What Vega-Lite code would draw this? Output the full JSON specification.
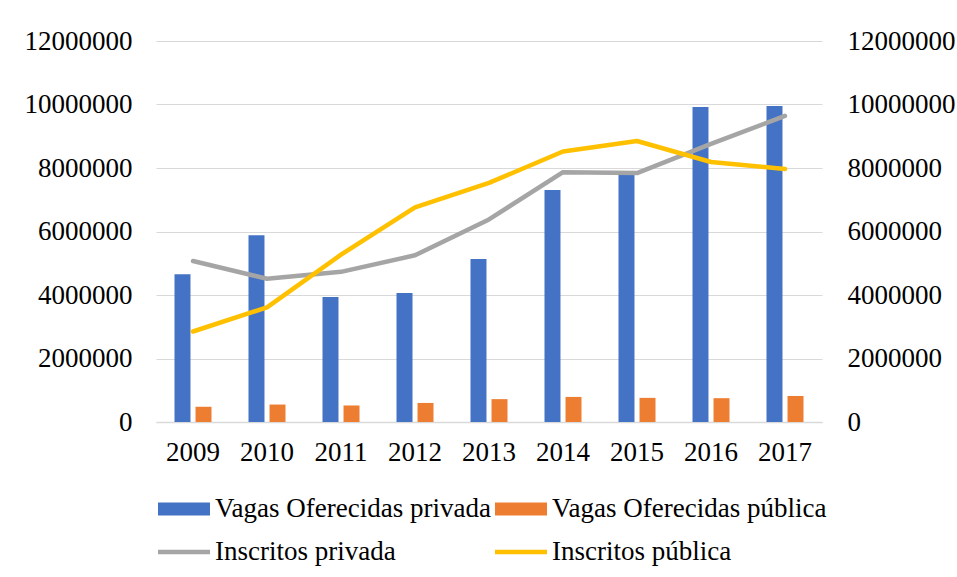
{
  "$schema": "https://vega.github.io/schema/vega-lite/v6.json",
  "width": 666,
  "height": 381,
  "autosize": {"type": "none"},
  "padding": {"left": 156, "top": 41, "right": 135, "bottom": 155},
  "background": "white",
  "config": {
    "view": {"stroke": null},
    "font": "'Liberation Serif', 'Times New Roman', serif",
    "axis": {"labelFont": "'Liberation Serif', 'Times New Roman', serif", "labelFontSize": 27, "labelColor": "#000000", "title": null, "ticks": false, "labelOverlap": false, "labelBound": false, "labelFlush": false}
  },
  "datasets": {
    "bars": [
      {"year": 2009, "series": "Vagas Oferecidas privada", "value": 4650000},
      {"year": 2010, "series": "Vagas Oferecidas privada", "value": 5880000},
      {"year": 2011, "series": "Vagas Oferecidas privada", "value": 3940000},
      {"year": 2012, "series": "Vagas Oferecidas privada", "value": 4060000},
      {"year": 2013, "series": "Vagas Oferecidas privada", "value": 5130000},
      {"year": 2014, "series": "Vagas Oferecidas privada", "value": 7310000},
      {"year": 2015, "series": "Vagas Oferecidas privada", "value": 7800000},
      {"year": 2016, "series": "Vagas Oferecidas privada", "value": 9920000},
      {"year": 2017, "series": "Vagas Oferecidas privada", "value": 9950000},
      {"year": 2009, "series": "Vagas Oferecidas pública", "value": 480000},
      {"year": 2010, "series": "Vagas Oferecidas pública", "value": 550000},
      {"year": 2011, "series": "Vagas Oferecidas pública", "value": 520000},
      {"year": 2012, "series": "Vagas Oferecidas pública", "value": 600000},
      {"year": 2013, "series": "Vagas Oferecidas pública", "value": 720000},
      {"year": 2014, "series": "Vagas Oferecidas pública", "value": 790000},
      {"year": 2015, "series": "Vagas Oferecidas pública", "value": 760000},
      {"year": 2016, "series": "Vagas Oferecidas pública", "value": 750000},
      {"year": 2017, "series": "Vagas Oferecidas pública", "value": 820000}
    ],
    "lines": [
      {"year": 2009, "series": "Inscritos privada", "value": 5070000},
      {"year": 2010, "series": "Inscritos privada", "value": 4510000},
      {"year": 2011, "series": "Inscritos privada", "value": 4730000},
      {"year": 2012, "series": "Inscritos privada", "value": 5250000},
      {"year": 2013, "series": "Inscritos privada", "value": 6380000},
      {"year": 2014, "series": "Inscritos privada", "value": 7870000},
      {"year": 2015, "series": "Inscritos privada", "value": 7840000},
      {"year": 2016, "series": "Inscritos privada", "value": 8760000},
      {"year": 2017, "series": "Inscritos privada", "value": 9640000},
      {"year": 2009, "series": "Inscritos pública", "value": 2850000},
      {"year": 2010, "series": "Inscritos pública", "value": 3610000},
      {"year": 2011, "series": "Inscritos pública", "value": 5270000},
      {"year": 2012, "series": "Inscritos pública", "value": 6760000},
      {"year": 2013, "series": "Inscritos pública", "value": 7530000},
      {"year": 2014, "series": "Inscritos pública", "value": 8520000},
      {"year": 2015, "series": "Inscritos pública", "value": 8850000},
      {"year": 2016, "series": "Inscritos pública", "value": 8190000},
      {"year": 2017, "series": "Inscritos pública", "value": 7970000}
    ]
  },
  "layer": [
    {
      "data": {"name": "bars"},
      "mark": {"type": "bar"},
      "encoding": {
        "x": {
          "field": "year", "type": "ordinal",
          "scale": {"paddingInner": 0.5, "paddingOuter": 0.25},
          "axis": {"labelAngle": 0, "labelPadding": 17, "domain": true, "domainColor": "#D9D9D9", "domainWidth": 1.5, "grid": false}
        },
        "xOffset": {
          "field": "series", "type": "nominal",
          "scale": {"domain": ["Vagas Oferecidas privada", "Vagas Oferecidas pública"], "paddingInner": 0.24, "paddingOuter": 0}
        },
        "y": {
          "field": "value", "type": "quantitative",
          "scale": {"domain": [0, 12000000], "nice": false},
          "axis": {"orient": "left", "values": [0, 2000000, 4000000, 6000000, 8000000, 10000000, 12000000], "format": "d", "grid": true, "gridColor": "#D9D9D9", "gridWidth": 1, "domain": false, "labelPadding": 24}
        },
        "color": {
          "field": "series", "type": "nominal",
          "scale": {
            "domain": ["Vagas Oferecidas privada", "Vagas Oferecidas pública", "Inscritos privada", "Inscritos pública"],
            "range": ["#4472C4", "#ED7D31", "#A5A5A5", "#FFC000"]
          },
          "legend": {
            "orient": "none", "legendX": 2, "legendY": 442,
            "direction": "horizontal", "columns": 2, "title": null,
            "labelFont": "'Liberation Serif', 'Times New Roman', serif", "labelFontSize": 27, "labelColor": "#000000",
            "symbolSize": 2704, "symbolType": "M-1,-0.25H1V0.25H-1Z", "symbolStrokeWidth": 0,
            "labelOffset": 5, "columnPadding": 4, "rowPadding": 4, "padding": 0, "labelLimit": 500,
            "encode": {
              "symbols": {
                "update": {
                  "shape": {"signal": "indexof(datum.value, 'Inscritos') == 0 ? 'M-1,-0.085H1V0.085H-1Z' : 'M-1,-0.25H1V0.25H-1Z'"},
                  "fill": {"scale": "color", "field": "value"},
                  "strokeWidth": {"value": 0},
                  "opacity": {"value": 1}
                }
              }
            }
          }
        }
      }
    },
    {
      "data": {"name": "lines"},
      "mark": {"type": "line", "strokeWidth": 4.5, "strokeCap": "round", "strokeJoin": "round"},
      "encoding": {
        "x": {"field": "year", "type": "ordinal"},
        "y": {
          "field": "value", "type": "quantitative",
          "scale": {"domain": [0, 12000000], "nice": false},
          "axis": {"orient": "right", "values": [0, 2000000, 4000000, 6000000, 8000000, 10000000, 12000000], "format": "d", "grid": false, "domain": false, "labelPadding": 25}
        },
        "color": {"field": "series", "type": "nominal"}
      }
    }
  ],
  "resolve": {"scale": {"y": "independent"}}
}
